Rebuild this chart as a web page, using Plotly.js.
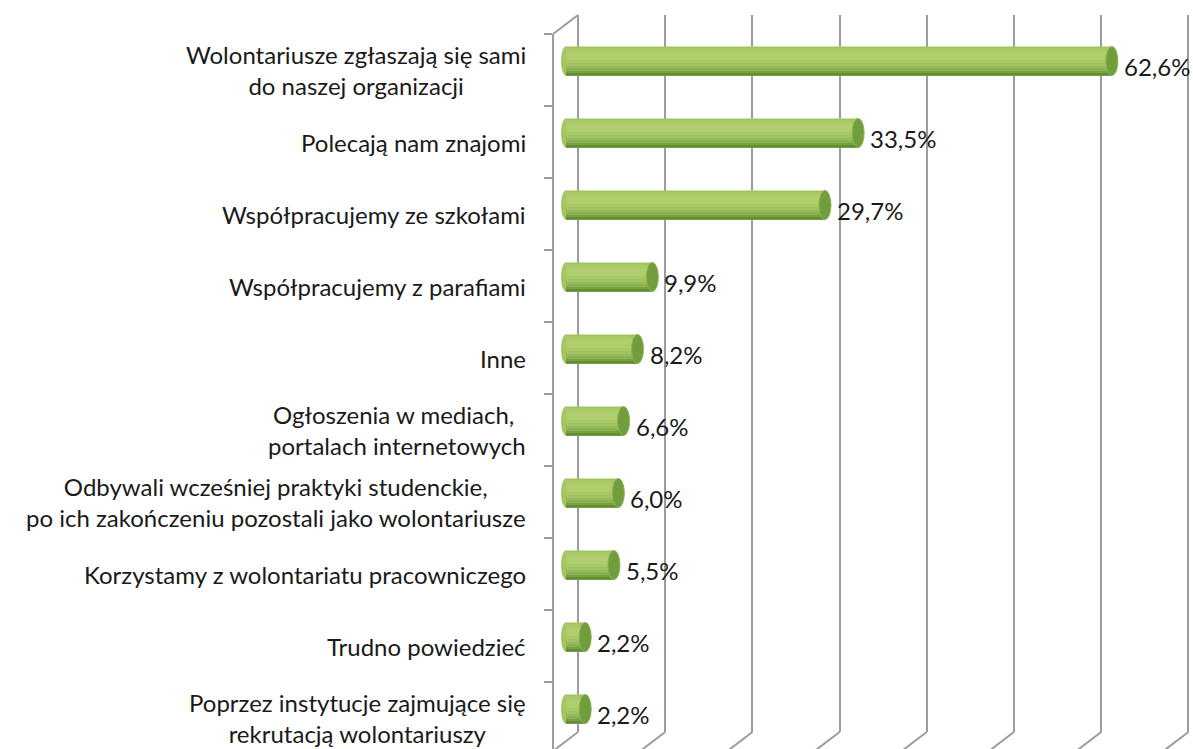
<!DOCTYPE html>
<html>
<head>
<meta charset="utf-8">
<script src="https://cdn.plot.ly/plotly-3.0.1.min.js"></script>
<style>
  html, body { margin: 0; padding: 0; background: #fff; }
  #draw { width: 1193px; height: 749px; }
</style>
</head>
<body>
<div id="draw"></div>
<script>
const categories = [
  "Wolontariusze zgłaszają się sami<br>do naszej organizacji",
  "Polecają nam znajomi",
  "Współpracujemy ze szkołami",
  "Współpracujemy z parafiami",
  "Inne",
  "Ogłoszenia w mediach, <br>portalach internetowych",
  "Odbywali wcześniej praktyki studenckie,<br>po ich zakończeniu pozostali jako wolontariusze",
  "Korzystamy z wolontariatu pracowniczego",
  "Trudno powiedzieć",
  "Poprzez instytucje zajmujące się<br>rekrutacją wolontariuszy"
]
const values = [62.6, 33.5, 29.7, 9.9, 8.2, 6.6, 6.0, 5.5, 2.2, 2.2]
const gridValues = [0, 10, 20, 30, 40, 50, 60, 70]

const main = () => {
  const W = 1193, H = 749
  const fx = (px) => px / W
  const fy = (py) => 1 - py / H

  const pxPerUnit = 8.72   // horizontal scale
  const gridZero = 578     // back wall, 0 %
  const barZero = 566      // bar base, 0 %
  const step = 72          // category spacing in px
  const barH = 29

  // cylinder shading: each band runs from its top (px from center) to the bar bottom
  const bands = [
    [-14.5, '#a0c361'],
    [-12.5, '#aac968'],
    [-9.5, '#b1ce6d'],
    [-4, '#afcc6b'],
    [-1, '#a9c866'],
    [2, '#a0c25f'],
    [5, '#95ba57'],
    [7.5, '#88b04e'],
    [10, '#77a144'],
    [12, '#638e37']
  ]
  const bottom = barH / 2

  const ids = categories.map((c, i) => i)

  const barTraces = bands.map(b => ({
    type: 'bar',
    orientation: 'h',
    x: values,
    y: ids,
    xaxis: 'x2',
    yaxis: 'y2',
    offset: b[0] / step,
    width: (bottom - b[0]) / step,
    marker: {color: b[1], line: {width: 0}},
    hoverinfo: 'skip',
    showlegend: false
  }))

  const dummyGrid = {
    type: 'scatter', mode: 'none', x: [0], y: [0],
    xaxis: 'x', yaxis: 'y', hoverinfo: 'skip', showlegend: false
  }
  const dummyFront = {
    type: 'scatter', mode: 'none', x: [0], y: [categories[0]],
    xaxis: 'x3', yaxis: 'y3', hoverinfo: 'skip', showlegend: false
  }

  const textFont = 'Lato, "Open Sans", sans-serif'

  const labelAnn = categories.map((c, i) => ({
    xref: 'paper', yref: 'y3',
    x: fx(528), y: i,
    xanchor: 'right', yanchor: 'middle',
    align: 'center',
    text: c,
    showarrow: false,
    font: {family: textFont, size: 24, color: '#1a1a1a'}
  }))

  const valueAnn = values.map((v, i) => ({
    xref: 'x2', yref: 'y2',
    x: v, y: i,
    xanchor: 'left', yanchor: 'middle',
    xshift: 10, yshift: -5,
    text: v.toFixed(1).replace('.', ',') + '%',
    showarrow: false,
    font: {family: textFont, size: 24, color: '#1a1a1a'}
  }))

  const capShapes = values.map((v, i) => ({
    type: 'circle', layer: 'above',
    xref: 'x2', yref: 'y2',
    xsizemode: 'pixel', xanchor: v, x0: -6, x1: 6,
    y0: i - barH / 2 / step, y1: i + barH / 2 / step,
    fillcolor: '#719d3d',
    line: {color: '#8ab453', width: 1}
  }))

  const startShapes = values.map((v, i) => ({
    type: 'circle', layer: 'between',
    xref: 'x2', yref: 'y2',
    xsizemode: 'pixel', xanchor: 0, x0: -5, x1: 5,
    y0: i - barH / 2 / step, y1: i + barH / 2 / step,
    fillcolor: '#a2c461',
    line: {width: 0}
  }))

  const gridColor = '#9c9c9c'
  const slantShapes = gridValues.map(g => ({
    type: 'line', xref: 'x', yref: 'paper',
    x0: g, x1: g - 25 / pxPerUnit,
    y0: fy(732), y1: fy(751),
    line: {color: gridColor, width: 2}
  }))
  slantShapes.push({
    type: 'line', xref: 'paper', yref: 'paper',
    x0: fx(553), x1: fx(578), y0: fy(34), y1: fy(15),
    line: {color: gridColor, width: 2}
  })

  const layout = {
    width: W, height: H,
    margin: {l: 0, r: 0, t: 0, b: 0},
    paper_bgcolor: '#ffffff',
    plot_bgcolor: 'rgba(0,0,0,0)',
    barmode: 'overlay',
    showlegend: false,
    font: {family: textFont},
    xaxis: {
      domain: [0, 1], anchor: 'y',
      range: [-gridZero / pxPerUnit, (W - gridZero) / pxPerUnit],
      tickvals: gridValues, showticklabels: false, ticks: '',
      showgrid: true, gridcolor: gridColor, gridwidth: 2,
      zeroline: false, showline: false, fixedrange: true
    },
    yaxis: {
      domain: [fy(732), fy(15)], anchor: 'x',
      range: [0, 1], visible: false, showgrid: false, zeroline: false, fixedrange: true
    },
    xaxis2: {
      domain: [0, 1], anchor: 'y2',
      range: [-barZero / pxPerUnit, (W - barZero) / pxPerUnit],
      visible: false, showgrid: false, zeroline: false, fixedrange: true
    },
    yaxis2: {
      domain: [0, 1], anchor: 'x2',
      range: [(H - 61) / step, -61 / step],
      visible: false, showgrid: false, zeroline: false, fixedrange: true
    },
    xaxis3: {
      domain: [0, 1], anchor: 'y3',
      range: [0, 1], visible: false, showgrid: false, zeroline: false, fixedrange: true
    },
    yaxis3: {
      domain: [0, fy(34)], anchor: 'free', position: fx(553),
      type: 'category', categoryorder: 'array', categoryarray: categories,
      range: [-0.5 + (H - 34) / step, -0.5],
      showline: true, linecolor: gridColor, linewidth: 2,
      ticks: 'outside', ticklen: 8, tickwidth: 2, tickcolor: gridColor,
      tickson: 'boundaries', showticklabels: false,
      showgrid: false, zeroline: false, fixedrange: true
    },
    shapes: [...slantShapes, ...startShapes, ...capShapes],
    annotations: [...labelAnn, ...valueAnn]
  }

  Plotly.newPlot('draw', [dummyGrid, ...barTraces, dummyFront], layout, {
    displayModeBar: false,
    staticPlot: true
  })
}

main()
</script>
</body>
</html>
